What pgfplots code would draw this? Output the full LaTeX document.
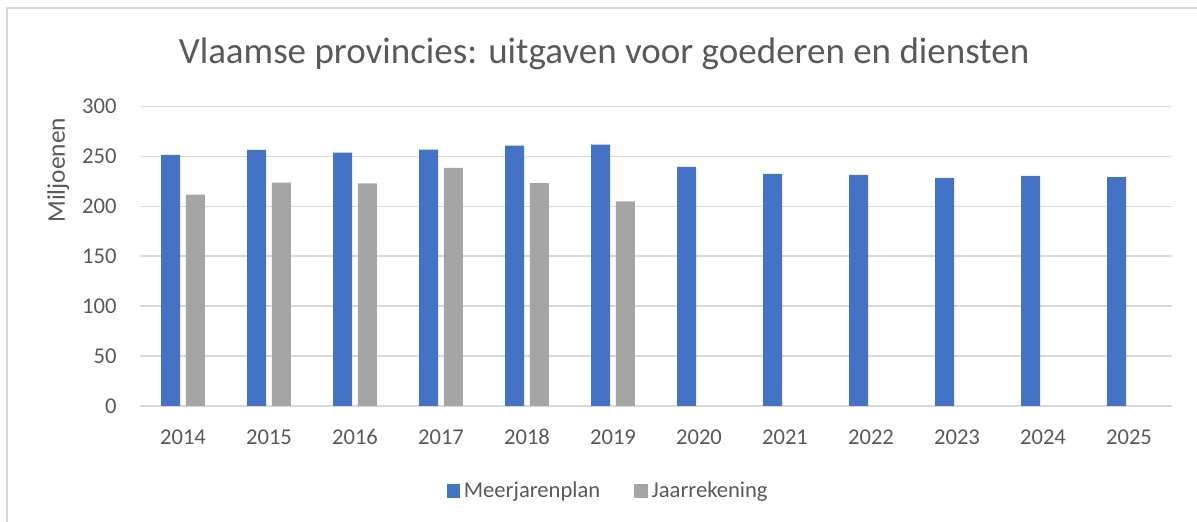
\documentclass[border=0pt]{standalone}
\usepackage{pgfplots}
\pgfplotsset{compat=1.18}
\usepackage{fontspec}
\setmainfont{Carlito}
\definecolor{mblue}{HTML}{4472C4}
\definecolor{mgray}{HTML}{A5A5A5}
\definecolor{gridgray}{HTML}{D9D9D9}
\definecolor{txtgray}{HTML}{595959}
\begin{document}
\begin{tikzpicture}
\useasboundingbox (0,0) rectangle (598.5bp,261bp);
\draw[gridgray, line width=0.8bp] (3.5bp,-5bp) -- (3.5bp,257bp) -- (610bp,257bp);
\node[anchor=base, text=txtgray, font=\fontsize{18.5bp}{22bp}\selectfont] at (302bp,229.3bp) {Vlaamse provincies: uitgaven voor goederen en diensten};
\begin{axis}[
  at={(70bp,58bp)}, anchor=south west,
  scale only axis, width=516bp, height=149.7bp,
  xmin=-0.5, xmax=11.5, ymin=0, ymax=300,
  xtick={0,...,11},
  xticklabels={2014,2015,2016,2017,2018,2019,2020,2021,2022,2023,2024,2025},
  ytick={0,50,...,300},
  major tick length=0pt,
  axis x line*=bottom, axis y line*=left,
  x axis line style={draw=gridgray, line width=0.8bp, -},
  y axis line style={draw=none},
  ymajorgrids, grid style={draw=gridgray, line width=0.8bp},
  tick label style={text=txtgray, font=\fontsize{11.3bp}{13bp}\selectfont},
  /pgf/number format/assume math mode=true,
  xticklabel style={anchor=base, yshift=-19bp},
  yticklabel style={anchor=east, inner sep=0pt, xshift=-11.5bp},
  ylabel={Miljoenen},
  ylabel style={at={(axis description cs:-0.0727,0.7876)}, anchor=base, rotate=0, text=txtgray, font=\fontsize{12.7bp}{15bp}\selectfont},
  legend columns=2,
  legend style={at={(axis description cs:0.4545,-0.284)}, anchor=center, draw=none, fill=none,
    font=\fontsize{11.3bp}{13bp}\selectfont, text=txtgray,
    /tikz/every even column/.append style={column sep=15bp}},
  legend image code/.code={\fill[#1, draw=none] (0bp,-3.35bp) rectangle (6.7bp,3.35bp);},
  legend cell align=left,
]
\addplot[ybar, bar width=9.5bp, bar shift=-6.15bp, fill=mblue, draw=none] coordinates {
(0,251.7) (1,256.7) (2,254) (3,257) (4,261) (5,262) (6,239.7) (7,232.7) (8,231.7) (9,228.7) (10,230.7) (11,229.4)};
\addlegendentry{Meerjarenplan}
\addplot[ybar, bar width=9.5bp, bar shift=6.15bp, fill=mgray, draw=none] coordinates {
(0,211.7) (1,223.7) (2,223) (3,238.7) (4,223.4) (5,205)};
\addlegendentry{Jaarrekening}
\end{axis}
\end{tikzpicture}
\end{document}
